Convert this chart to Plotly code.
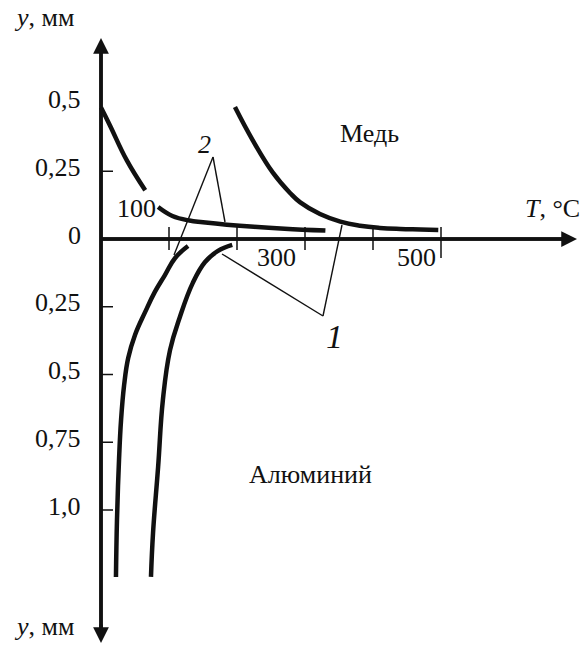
import plotly.graph_objects as go

# ---------------- data (T in °C, y in mm; aluminium deflection plotted downward) ----------------
cu_low_T = [0, 13, 38, 65, None, 84, 105, 130, 150, 185, 225, 270, 330]
cu_low_y = [0.485, 0.42, 0.29, 0.18, None, 0.118, 0.085, 0.068, 0.062, 0.053, 0.045, 0.038, 0.031]

cu_high_T = [197, 223, 253, 278, 293, 322, 352, 381, 410, 440, 470, 496]
cu_high_y = [0.487, 0.365, 0.244, 0.170, 0.135, 0.092, 0.064, 0.049, 0.041, 0.037, 0.035, 0.033]

al_left_T = [128, 109, 94, 79, 65, 50, 40, 34, 29.5, 26.5, 23.5, 22]
al_left_y = [-0.026, -0.070, -0.133, -0.196, -0.269, -0.354, -0.439, -0.539, -0.668, -0.815, -1.037, -1.247]

al_right_T = [193, 172, 153, 135, 116, 101.5, 91, 84, 76.5, 73.5]
al_right_y = [-0.022, -0.044, -0.085, -0.162, -0.288, -0.410, -0.594, -0.841, -1.085, -1.247]

x_tick_vals = [100, 200, 300, 400, 500]
x_label_vals = [100, 300, 500]
x_label_text = ["100", "300", "500"]
x_label_shift = [(-11, 31), (-7, -18), (-3, -18)]

y_tick_vals = [0.25, -0.25, -0.5, -0.75, -1.0]
y_label_vals = [0.5, 0.25, 0, -0.25, -0.5, -0.75, -1.0]
y_label_text = ["0,5", "0,25", "0", "0,25", "0,5", "0,75", "1,0"]

# ---------------- geometry of the drawing (pixels -> data) ----------------
W, H = 585, 646
PX_PER_T = 0.68      # px per °C
PX_PER_Y = 271.0     # px per mm
X0, Y0 = 101, 239    # pixel position of origin

def dx(px):
    return px / PX_PER_T

def dy(px):
    return px / PX_PER_Y

x_range = [-X0 / PX_PER_T, (W - X0) / PX_PER_T]
y_range = [-(H - Y0) / PX_PER_Y, Y0 / PX_PER_Y]

FONT = "Liberation Serif, Times New Roman, serif"
BLACK = "#111111"
FS = 26

fig = go.Figure()

for T, Y in [(cu_low_T, cu_low_y), (cu_high_T, cu_high_y), (al_left_T, al_left_y), (al_right_T, al_right_y)]:
    fig.add_trace(go.Scatter(x=T, y=Y, mode="lines", connectgaps=False,
                             line=dict(color=BLACK, width=4.5, shape="spline", smoothing=1.2),
                             hoverinfo="skip", showlegend=False))

shapes = []
annotations = []

# axes with arrows
annotations.append(dict(x=0, y=dy(Y0 - 38), ax=0, ay=-dy(643 - Y0) + dy(14), xref="x", yref="y",
                        axref="x", ayref="y", showarrow=True, arrowhead=2, arrowsize=0.9,
                        arrowwidth=3.5, arrowcolor=BLACK, text="", standoff=0))
annotations.append(dict(x=0, y=-dy(643 - Y0), ax=0, ay=-dy(643 - Y0) + dy(20), xref="x", yref="y",
                        axref="x", ayref="y", showarrow=True, arrowhead=2, arrowsize=0.9,
                        arrowwidth=3.5, arrowcolor=BLACK, text="", standoff=0))
annotations.append(dict(x=dx(577 - X0), y=0, ax=0, ay=0, xref="x", yref="y",
                        axref="x", ayref="y", showarrow=True, arrowhead=2, arrowsize=0.9,
                        arrowwidth=3.5, arrowcolor=BLACK, text="", standoff=0))

# x ticks
for v in x_tick_vals:
    lo = -dy(19) if v == 500 else -dy(11)
    shapes.append(dict(type="line", x0=v, x1=v, y0=dy(12), y1=lo, xref="x", yref="y",
                       line=dict(color=BLACK, width=1.5)))
# y ticks
for v in y_tick_vals:
    shapes.append(dict(type="line", x0=0, x1=dx(12), y0=v, y1=v, xref="x", yref="y",
                       line=dict(color=BLACK, width=1.5)))

# x tick labels
for v, t, (sx, sy) in zip(x_label_vals, x_label_text, x_label_shift):
    annotations.append(dict(x=v, y=0, text=t, showarrow=False, xanchor="right", yanchor="middle",
                            xshift=sx, yshift=sy, font=dict(family=FONT, size=FS, color=BLACK)))
# y tick labels
for v, t in zip(y_label_vals, y_label_text):
    annotations.append(dict(x=0, y=v, text=t, showarrow=False, xanchor="right", yanchor="middle",
                            xshift=-18, yshift=4, font=dict(family=FONT, size=FS, color=BLACK)))

# leader lines for labels 1 and 2
leaders = [
    ((213, 157), (174, 255)),
    ((213, 157), (225, 222)),
    ((323, 316), (222, 254)),
    ((323, 316), (342, 225)),
]
for (ax_, ay_), (bx, by) in leaders:
    shapes.append(dict(type="line", x0=dx(ax_ - X0), y0=dy(Y0 - ay_), x1=dx(bx - X0), y1=dy(Y0 - by),
                       xref="x", yref="y", line=dict(color=BLACK, width=1.4)))

def label(px, py, text, size=FS, anchor="center"):
    annotations.append(dict(x=dx(px - X0), y=dy(Y0 - py), text=text, showarrow=False,
                            xanchor=anchor, yanchor="middle",
                            font=dict(family=FONT, size=size, color=BLACK)))

label(12, 17, "<i>y</i>, мм", anchor="left")
label(12, 626, "<i>y</i>, мм", anchor="left")
label(582, 208, "<i>T</i>, °C", anchor="right")
label(369, 133, "Медь")
label(310, 474, "Алюминий")
label(204, 144, "<i>2</i>", size=26)
label(334, 336, "<i>1</i>", size=34)

fig.update_layout(
    width=W, height=H, margin=dict(l=0, r=0, t=0, b=0),
    paper_bgcolor="white", plot_bgcolor="white",
    xaxis=dict(range=x_range, visible=False, fixedrange=True),
    yaxis=dict(range=y_range, visible=False, fixedrange=True),
    shapes=shapes, annotations=annotations, showlegend=False,
)
# axis lines drawn beneath arrow heads
fig.add_shape(type="line", x0=0, x1=0, y0=-dy(643 - Y0) + dy(10), y1=dy(Y0 - 38) - dy(10),
              xref="x", yref="y", line=dict(color=BLACK, width=3.5))
fig.add_shape(type="line", x0=0, x1=dx(577 - X0) - dx(10), y0=0, y1=0,
              xref="x", yref="y", line=dict(color=BLACK, width=3.5))

fig.write_html("out.html")
